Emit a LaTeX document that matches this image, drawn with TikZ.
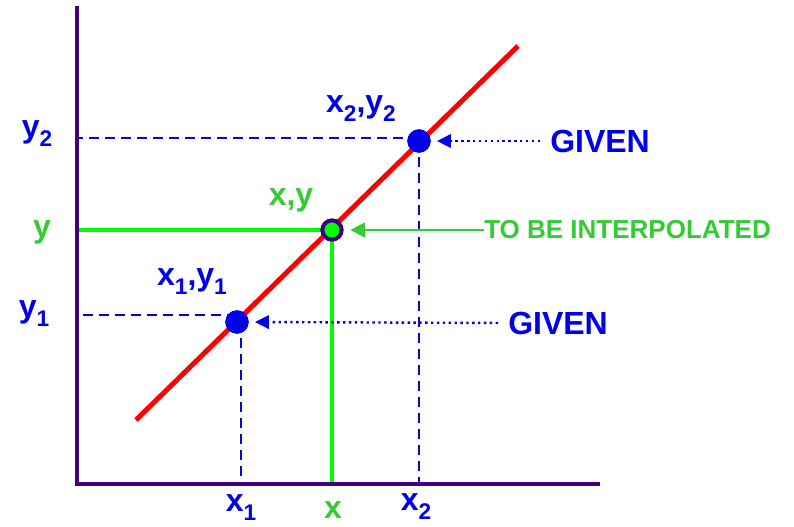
\documentclass[tikz,border=0pt]{standalone}
\usepackage{fontspec}
\setmainfont{Liberation Sans}
\usetikzlibrary{arrows.meta,positioning}
\definecolor{axisviolet}{RGB}{64,0,128}
\definecolor{ptblue}{RGB}{0,0,235}
\definecolor{lblgreen}{RGB}{51,204,51}
\definecolor{linegreen}{RGB}{0,255,0}
\newcommand{\lowsub}[1]{\raisebox{-0.3em}{\fontsize{17}{20}\selectfont #1}}

\begin{document}
\begin{tikzpicture}[x=0.75pt,y=-0.75pt,
    axis/.style={line width=3.6pt, axisviolet},
    guide/.style={ptblue, line width=1.5pt, dash pattern=on 7.5pt off 4.5pt},
    readoff/.style={linegreen, line width=3.6pt},
    givenpt/.style={circle, fill=ptblue, minimum size=17.5pt, inner sep=0pt},
    interppt/.style={circle, draw=axisviolet, line width=3pt, fill=linegreen, minimum size=14.5pt, inner sep=0pt},
    lbl/.style={font=\bfseries\fontsize{24}{28}\selectfont, text=ptblue, inner sep=0pt, anchor=base},
    glbl/.style={lbl, text=lblgreen},
    givenarrow/.style={ptblue, line width=1.8pt, dash pattern=on 1.8pt off 2.6pt, -{Triangle[length=10.5pt, width=10pt]}, shorten <=7.5pt, shorten >=4.5pt},
    interparrow/.style={lblgreen, line width=1.8pt, -{Triangle[length=11pt, width=11pt]}, shorten >=5pt}]
  \useasboundingbox (0,0) rectangle (794,526);
  \coordinate (origin) at (77,484);
  \coordinate (ytop) at (77,6);
  \coordinate (xend) at (600,484);
  \coordinate (lstart) at (136,420);
  \coordinate (lend) at (518,46);
  \node[givenpt] (p1) at (237,322) {};
  \node[givenpt] (p2) at (419,141) {};
  \coordinate (pc) at (332,230);
  % guide lines to the axes
  \draw[guide] ([yshift=5]p1.center) -- ([yshift=5]p1.center -| origin);
  \draw[guide] ([xshift=3]p1.center) -- ([xshift=3]p1.center |- origin);
  \draw[guide] ([yshift=2]p2.center) -- ([yshift=2]p2.center -| origin);
  \draw[guide] (p2.center) -- (p2.center |- origin);
  \draw[readoff] (pc) -- (pc -| origin);
  \draw[readoff] (pc) -- (pc |- origin);
  \draw[axis] (ytop) -- (origin) -- (xend);
  \draw[red, line width=3.75pt] (lstart) -- (lend);
  \node[givenpt] at (p1) {};
  \node[givenpt] at (p2) {};
  \node[interppt] (p) at (pc) {};
  % labels
  \node[lbl] (y2lbl) at (37,137) {y\lowsub{2}};
  \node[glbl] (ylbl) at (42,237) {y};
  \node[lbl] (y1lbl) at (34,317) {y\lowsub{1}};
  \node[lbl] (x1lbl) at (241,511) {x\lowsub{1}};
  \node[glbl] (xlbl) at (333,518) {x};
  \node[lbl] (x2lbl) at (416,510) {x\lowsub{2}};
  \node[lbl] (x2y2lbl) at (361,112) {x\lowsub{2},y\lowsub{2}};
  \node[glbl] (xylbl) at (291,205) {x,y};
  \node[lbl] (x1y1lbl) at (192,285) {x\lowsub{1},y\lowsub{1}};
  \node[lbl, anchor=west] (given2) at (550,141) {GIVEN};
  \node[lbl, anchor=west] (given1) at (508,323) {GIVEN};
  \node[glbl, anchor=west, font=\bfseries\fontsize{19.5}{23}\selectfont] (interp) at (484,230) {TO BE INTERPOLATED};
  % arrows
  \draw[givenarrow] (given2.west) -- (p2.east);
  \draw[givenarrow] (given1.west) -- (p1.east);
  \draw[interparrow] (interp.west) -- (p.east);
\end{tikzpicture}
\end{document}
